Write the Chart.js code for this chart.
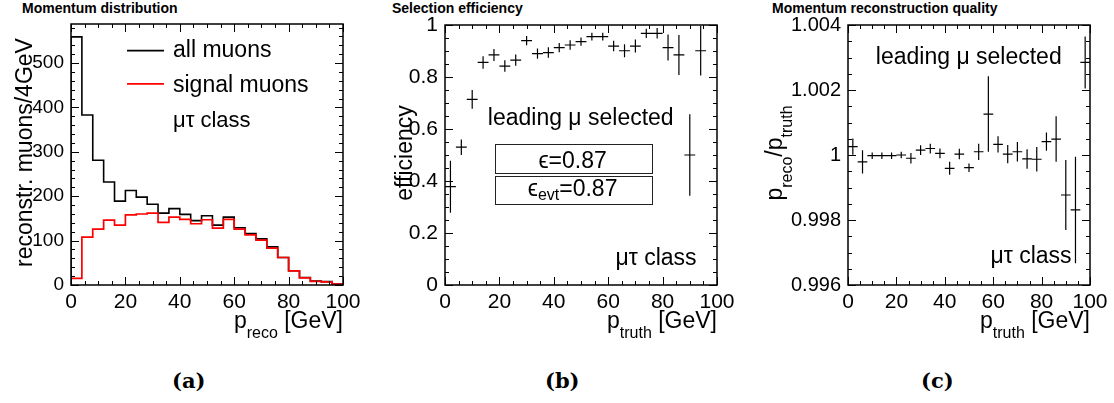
<!DOCTYPE html>
<html>
<head>
<meta charset="utf-8">
<script src="https://cdn.jsdelivr.net/npm/chart.js@4.4.0/dist/chart.umd.min.js"></script>
<style>
body { margin: 0; background: #fff; width: 1114px; height: 403px; position: relative; overflow: hidden; }
canvas { position: absolute; top: 0; }
.ptitle { position: absolute; top: 0; font: bold 14px "Liberation Sans", Arial, sans-serif; color: #000; }
.plabel { position: absolute; top: 368px; font: bold 21px "DejaVu Serif", serif; color: #000; }
</style>
</head>
<body>
<div class="ptitle" style="left:22px">Momentum distribution</div>
<div class="ptitle" style="left:392px">Selection efficiency</div>
<div class="ptitle" style="left:772px">Momentum reconstruction quality</div>
<canvas id="momentum" width="372" height="345" style="left:0"></canvas>
<canvas id="efficiency" width="374" height="345" style="left:372px"></canvas>
<canvas id="quality" width="368" height="345" style="left:746px"></canvas>
<div class="plabel" style="left:172px">(a)</div>
<div class="plabel" style="left:545px">(b)</div>
<div class="plabel" style="left:921px">(c)</div>
<script>
'use strict';

const FONT = '"Liberation Sans", Arial, sans-serif';

// (a) reconstructed muon momentum, 4 GeV bins (left edges)
const momentum_bins = [0, 4, 8, 12, 16, 20, 24, 28, 32, 36, 40, 44, 48, 52, 56, 60, 64, 68, 72, 76, 80, 84, 88, 92, 96];
const all_muons = [559, 383, 281, 232, 189, 213, 198, 182, 162, 172, 159, 145, 156, 135, 153, 129, 116, 104, 86, 62, 32, 17, 9, 7.5, 2];
const signal_muons = [15, 108, 126, 146, 135, 158, 160, 162, 141, 153, 148, 138, 147, 128, 148, 126, 113, 101, 83, 62, 32, 16, 8, 7, 2];

// (b) selection efficiency vs true momentum (bin centres)
const eff_bins = [2, 6, 10, 14, 18, 22, 26, 30, 34, 38, 42, 46, 50, 54, 58, 62, 66, 70, 74, 78, 82, 86, 90, 94];
const efficiency = [0.378, 0.53, 0.714, 0.856, 0.885, 0.842, 0.865, 0.94, 0.89, 0.894, 0.913, 0.923, 0.936, 0.955, 0.955, 0.919, 0.901, 0.919, 0.968, 0.968, 0.913, 0.885, 0.50, 0.901];
const efficiency_err = [0.1, 0.03, 0.036, 0.024, 0.023, 0.022, 0.022, 0.018, 0.02, 0.02, 0.018, 0.018, 0.016, 0.015, 0.015, 0.02, 0.025, 0.025, 0.018, 0.02, 0.05, 0.077, 0.157, 0.095];
const eff_total = '0.87';
const eff_event = '0.87';

// (c) p_reco / p_truth vs true momentum (bin centres)
const ratio_bins = [2, 6, 10, 14, 18, 22, 26, 30, 34, 38, 42, 46, 50, 54, 58, 62, 66, 70, 74, 78, 82, 86, 90, 94, 98];
const ratio = [1.00026, 0.99979, 0.99998, 0.99998, 0.99998, 1.0, 0.9999, 1.00015, 1.0002, 1.00005, 0.99959, 1.00003, 0.99961, 1.0001, 1.00126, 1.00033, 1.00003, 1.0001, 0.99988, 0.99987, 1.00041, 1.00049, 0.99877, 0.99831, 1.00285];
const ratio_err = [0.00025, 0.00036, 0.0001, 0.0001, 0.0001, 0.0001, 0.00016, 0.00015, 0.00015, 0.00015, 0.0002, 0.00016, 0.00013, 0.00025, 0.00116, 0.00025, 0.00028, 0.0003, 0.0003, 0.00038, 0.00028, 0.0007, 0.00108, 0.00164, 0.0008];

const half_bin = 2;

// histogram outline: drop to zero at both ends, hold each value over its bin
function histogram_points(edges, values) {
    const pts = [{x: edges[0], y: 0}];
    edges.forEach((e, i) => pts.push({x: e, y: values[i]}));
    const last = edges[edges.length - 1] + half_bin * 2;
    pts.push({x: last, y: values[values.length - 1]});
    pts.push({x: last, y: 0});
    return pts;
}

// error crosses as broken line segments
function vertical_bars(xs, ys, errs) {
    const pts = [];
    xs.forEach((x, i) => {
        pts.push({x: x, y: ys[i] - errs[i]}, {x: x, y: ys[i] + errs[i]}, {x: x, y: null});
    });
    return pts;
}

function horizontal_bars(xs, ys) {
    const pts = [];
    xs.forEach((x, i) => {
        pts.push({x: x - half_bin, y: ys[i]}, {x: x + half_bin, y: ys[i]}, {x: x, y: null});
    });
    return pts;
}

// text with subscripts: parts = [[text, is_sub], ...]
function draw_rich(ctx, parts, x, y, size, align, drop) {
    const sub_size = Math.round(size * 0.68);
    const sub_drop = drop === undefined ? size * 0.42 : drop;
    let w = 0;
    parts.forEach(([t, sub]) => {
        ctx.font = `${sub ? sub_size : size}px ${FONT}`;
        w += ctx.measureText(t).width;
    });
    let cx = align === 'right' ? x - w : (align === 'center' ? x - w / 2 : x);
    ctx.textAlign = 'left';
    ctx.textBaseline = 'alphabetic';
    parts.forEach(([t, sub]) => {
        ctx.font = `${sub ? sub_size : size}px ${FONT}`;
        ctx.fillText(t, cx, sub ? y + sub_drop : y);
        cx += ctx.measureText(t).width;
    });
}

// frame with inward ticks on all four sides, plus axis titles
function frame_plugin(cfg) {
    return {
        id: 'frame',
        afterDatasetsDraw(chart) {
            const {ctx, chartArea: a, scales: {x, y}} = chart;
            ctx.save();
            ctx.strokeStyle = '#000';
            ctx.lineWidth = 1;
            ctx.beginPath();
            const nx = Math.round((x.max - x.min) / cfg.x_minor);
            for (let i = 0; i <= nx; i++) {
                const px = Math.round(x.getPixelForValue(x.min + i * cfg.x_minor)) + 0.5;
                const len = i % cfg.x_every === 0 ? 8 : 4;
                ctx.moveTo(px, a.bottom); ctx.lineTo(px, a.bottom - len);
                ctx.moveTo(px, a.top); ctx.lineTo(px, a.top + len);
            }
            const ny = Math.floor((y.max - y.min) / cfg.y_minor + 1e-6);
            for (let i = 0; i <= ny; i++) {
                const py = Math.round(y.getPixelForValue(y.min + i * cfg.y_minor)) + 0.5;
                const len = i % cfg.y_every === 0 ? 8 : 4;
                ctx.moveTo(a.left, py); ctx.lineTo(a.left + len, py);
                ctx.moveTo(a.right, py); ctx.lineTo(a.right - len, py);
            }
            ctx.stroke();
            ctx.lineWidth = 1.5;
            ctx.strokeRect(a.left, a.top, a.right - a.left, a.bottom - a.top);

            ctx.fillStyle = '#000';
            draw_rich(ctx, cfg.x_title, a.right, 328, 23, 'right');
            ctx.translate(cfg.y_title_x, (a.top + a.bottom) / 2 - 2);
            ctx.rotate(-Math.PI / 2);
            draw_rich(ctx, cfg.y_title, 0, 0, 23, 'center');
            ctx.restore();
        }
    };
}

function text_plugin(draw) {
    return {
        id: 'texts',
        afterDraw(chart) {
            const ctx = chart.ctx;
            ctx.save();
            ctx.fillStyle = '#000';
            draw(ctx, chart.scales.x, chart.scales.y);
            ctx.restore();
        }
    };
}

function axis(min, max, step, width_or_height, is_x, fmt, font_size) {
    return {
        type: 'linear',
        min: min,
        max: max,
        grid: {display: false, drawTicks: false},
        border: {display: false},
        ticks: {
            color: '#000',
            padding: is_x ? 5 : 7,
            maxRotation: 0,
            font: {family: FONT, size: font_size || 21},
            callback: fmt
        },
        afterBuildTicks: scale => {
            const ticks = [];
            for (let i = 0; min + i * step <= max + step * 1e-6; i++) {
                ticks.push({value: min + i * step});
            }
            scale.ticks = ticks;
        },
        afterFit: scale => {
            if (is_x) scale.height = width_or_height;
            else scale.width = width_or_height;
        }
    };
}

const int_fmt = v => String(Math.round(v));

function base_options(pad_top, pad_right, x_opts, y_opts) {
    return {
        responsive: false,
        animation: false,
        layout: {padding: {top: pad_top, right: pad_right, left: 0, bottom: 0}},
        plugins: {legend: {display: false}, tooltip: {enabled: false}},
        elements: {point: {radius: 0}},
        scales: {x: x_opts, y: y_opts}
    };
}

// (a)
new Chart(document.getElementById('momentum'), {
    type: 'line',
    data: {
        datasets: [
            {
                data: histogram_points(momentum_bins, signal_muons),
                stepped: 'before',
                borderColor: '#ff0000',
                borderWidth: 1.7,
                order: 0
            },
            {
                data: histogram_points(momentum_bins, all_muons),
                stepped: 'before',
                borderColor: '#000',
                borderWidth: 1.6,
                order: 1
            }
        ]
    },
    options: base_options(24, 29,
        axis(0, 100, 20, 60, true, int_fmt),
        axis(0, 588, 100, 71, false, int_fmt, 19)),
    plugins: [
        frame_plugin({
            x_minor: 5, x_every: 4, y_minor: 20, y_every: 5,
            x_title: [['p', false], ['reco', true], [' [GeV]', false]],
            y_title: [['reconstr. muons/4GeV', false]],
            y_title_x: 32
        }),
        text_plugin((ctx, x, y) => {
            ctx.lineWidth = 1.6;
            ctx.strokeStyle = '#000';
            ctx.beginPath();
            ctx.moveTo(x.getPixelForValue(20.6), y.getPixelForValue(528));
            ctx.lineTo(x.getPixelForValue(34.2), y.getPixelForValue(528));
            ctx.stroke();
            ctx.strokeStyle = '#ff0000';
            ctx.beginPath();
            ctx.moveTo(x.getPixelForValue(20.6), y.getPixelForValue(453));
            ctx.lineTo(x.getPixelForValue(34.2), y.getPixelForValue(453));
            ctx.stroke();
            const tx = x.getPixelForValue(37.5);
            draw_rich(ctx, [['all muons', false]], tx, y.getPixelForValue(514), 23, 'left');
            draw_rich(ctx, [['signal muons', false]], tx, y.getPixelForValue(434), 23, 'left');
            draw_rich(ctx, [['μτ class', false]], tx, y.getPixelForValue(357), 22, 'left');
        })
    ]
});

// (b)
new Chart(document.getElementById('efficiency'), {
    type: 'line',
    data: {
        datasets: [
            {data: vertical_bars(eff_bins, efficiency, efficiency_err), borderColor: '#000', borderWidth: 1.2},
            {data: horizontal_bars(eff_bins, efficiency), borderColor: '#000', borderWidth: 1.2}
        ]
    },
    options: base_options(25, 29,
        axis(0, 100, 20, 60, true, int_fmt),
        axis(0, 1, 0.2, 73, false, v => String(parseFloat(v.toFixed(1))))),
    plugins: [
        frame_plugin({
            x_minor: 5, x_every: 4, y_minor: 0.05, y_every: 4,
            x_title: [['p', false], ['truth', true], [' [GeV]', false]],
            y_title: [['efficiency', false]],
            y_title_x: 40
        }),
        text_plugin((ctx, x, y) => {
            draw_rich(ctx, [['leading μ selected', false]], x.getPixelForValue(49.9), y.getPixelForValue(0.615), 23, 'center');
            draw_rich(ctx, [['μτ class', false]], x.getPixelForValue(92.5), y.getPixelForValue(0.077), 23, 'right');
            ctx.strokeStyle = '#222';
            ctx.lineWidth = 1;
            const bx0 = Math.round(x.getPixelForValue(18.5)) + 0.5;
            const bx1 = Math.round(x.getPixelForValue(76)) + 0.5;
            [[0.541, 0.432], [0.419, 0.311]].forEach(([top, bottom]) => {
                const by0 = Math.round(y.getPixelForValue(top)) + 0.5;
                const by1 = Math.round(y.getPixelForValue(bottom)) + 0.5;
                ctx.strokeRect(bx0, by0, bx1 - bx0, by1 - by0);
            });
            const cx = x.getPixelForValue(46.9);
            draw_rich(ctx, [['ϵ=' + eff_total, false]], cx, y.getPixelForValue(0.45), 23, 'center');
            draw_rich(ctx, [['ϵ', false], ['evt', true], ['=' + eff_event, false]], cx, y.getPixelForValue(0.342), 23, 'center', 4);
        })
    ]
});

// (c)
new Chart(document.getElementById('quality'), {
    type: 'line',
    data: {
        datasets: [
            {data: vertical_bars(ratio_bins, ratio, ratio_err), borderColor: '#000', borderWidth: 1.2},
            {data: horizontal_bars(ratio_bins, ratio), borderColor: '#000', borderWidth: 1.2}
        ]
    },
    options: base_options(25, 24,
        axis(0, 100, 20, 60, true, int_fmt),
        axis(0.996, 1.004, 0.002, 102, false, v => Math.abs(v - 1) < 1e-9 ? '1' : v.toFixed(3), 20)),
    plugins: [
        frame_plugin({
            x_minor: 5, x_every: 4, y_minor: 0.0005, y_every: 4,
            x_title: [['p', false], ['truth', true], [' [GeV]', false]],
            y_title: [['p', false], ['reco', true], ['/p', false], ['truth', true]],
            y_title_x: 36
        }),
        text_plugin((ctx, x, y) => {
            draw_rich(ctx, [['leading μ selected', false]], x.getPixelForValue(49.9), y.getPixelForValue(1.0028), 23, 'center');
            draw_rich(ctx, [['μτ class', false]], x.getPixelForValue(92.4), y.getPixelForValue(0.99667), 23, 'right');
        })
    ]
});
</script>
</body>
</html>
